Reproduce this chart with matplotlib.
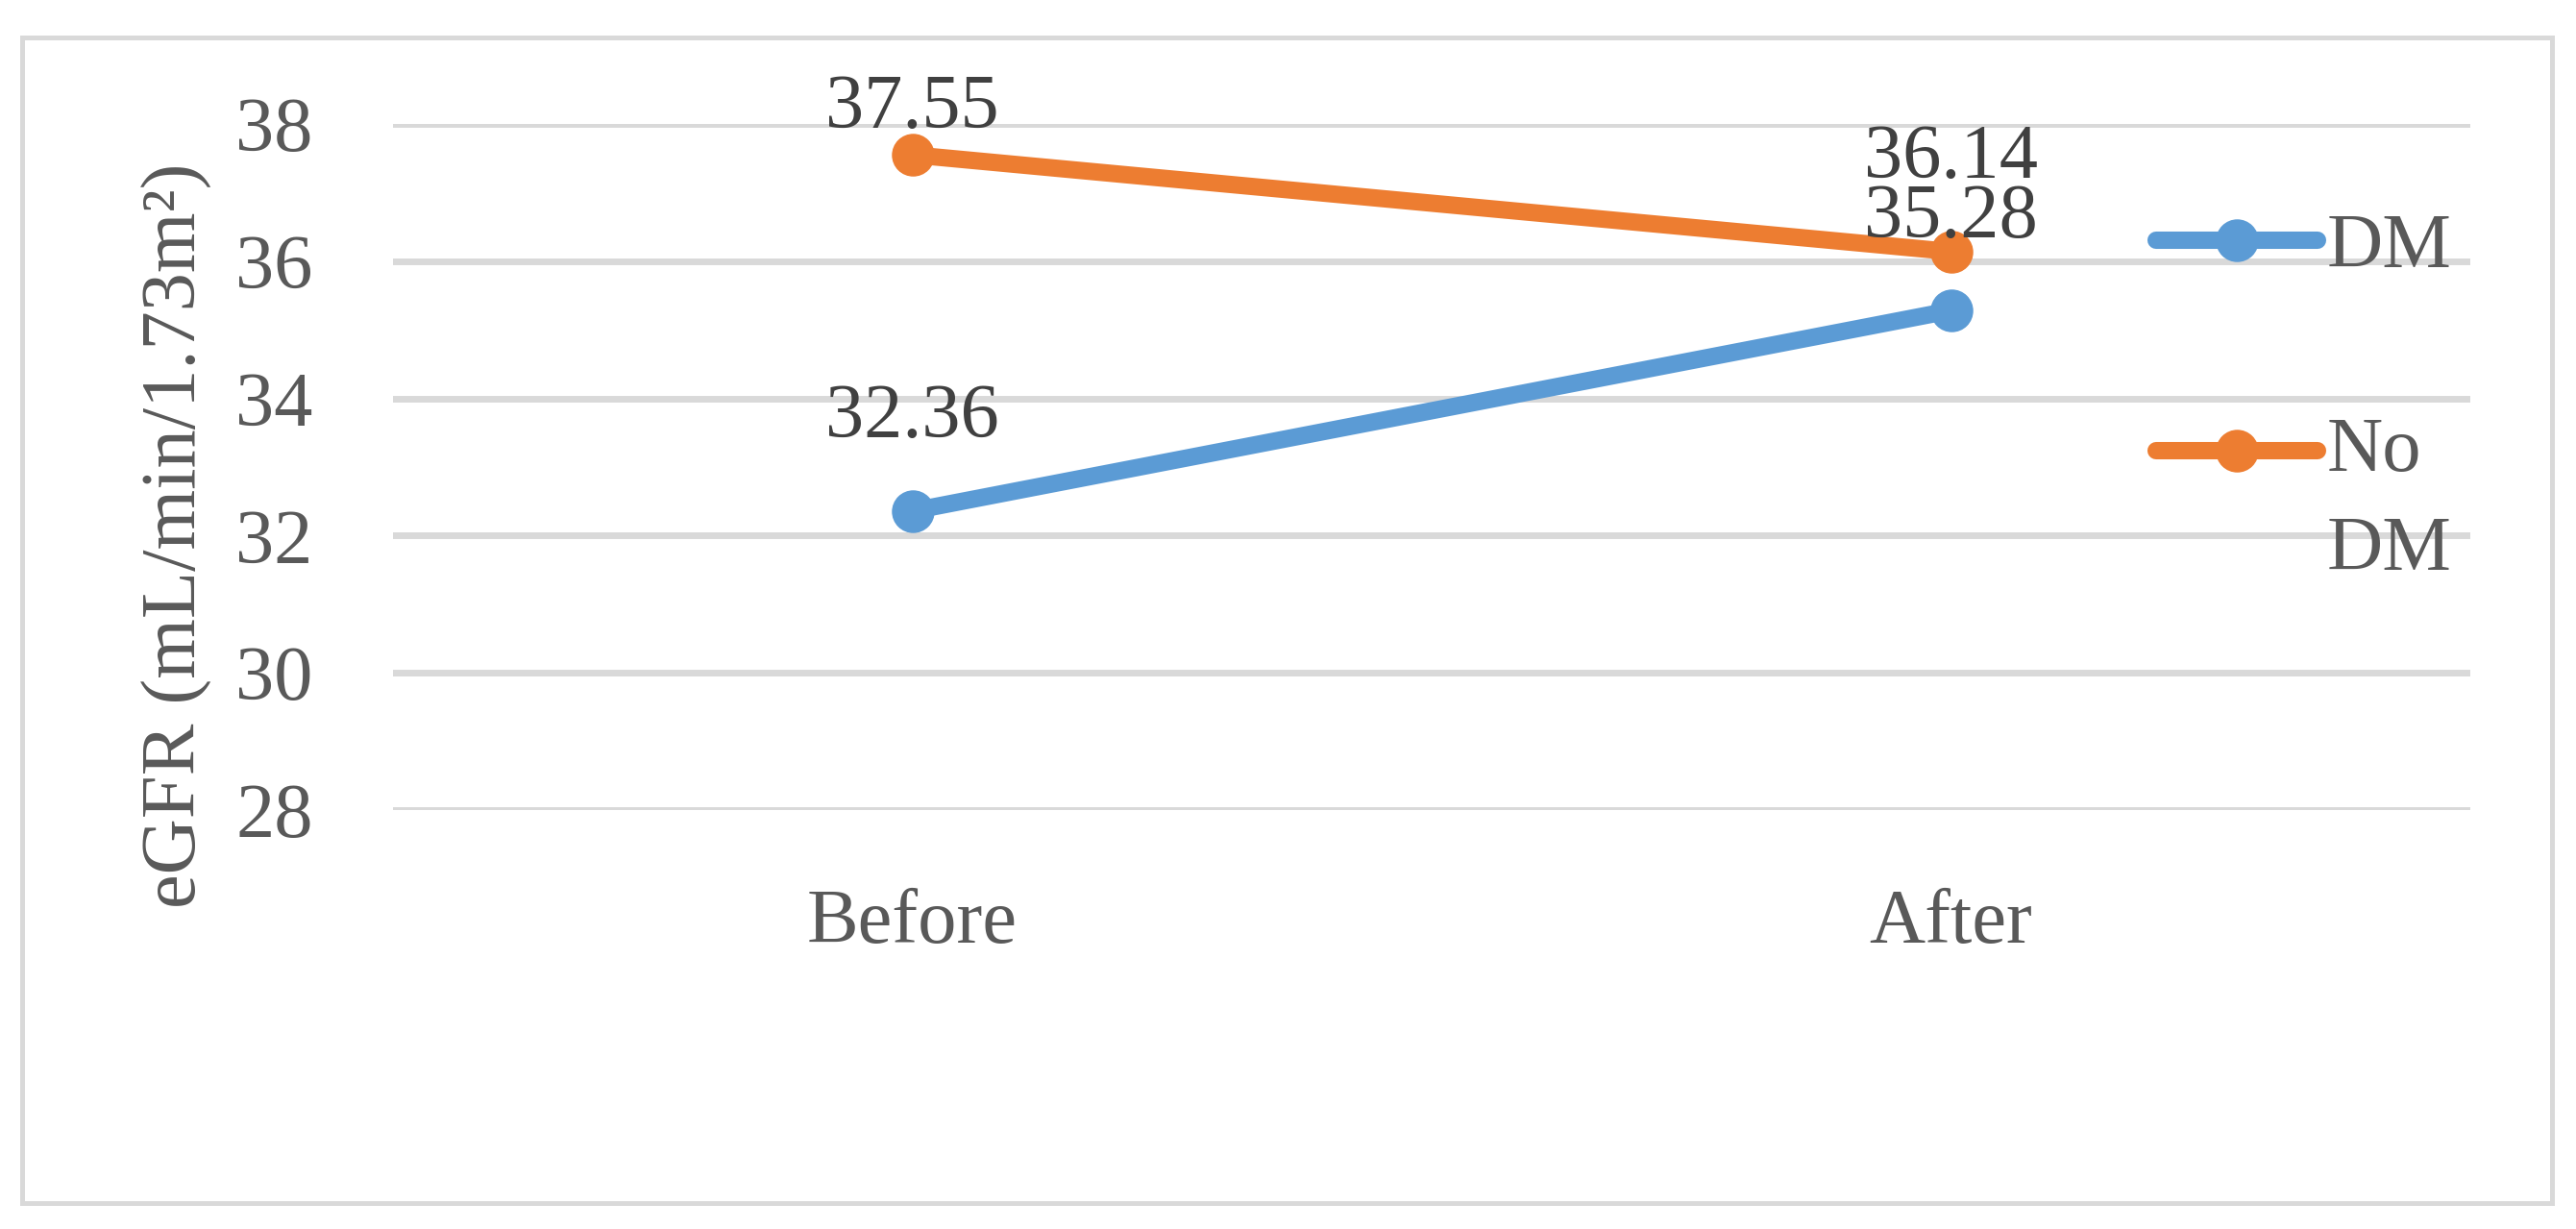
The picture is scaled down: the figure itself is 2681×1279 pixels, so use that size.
import numpy as np
import matplotlib
matplotlib.use("Agg")
import matplotlib.pyplot as plt
from matplotlib.legend_handler import HandlerLine2D
from matplotlib.patches import Rectangle

categories = ["Before", "After"]
series_names = ["DM", "No\nDM"]
dm_values = [32.36, 35.28]
nodm_values = [37.55, 36.14]
y_ticks = [28, 30, 32, 34, 36, 38]
y_label = "eGFR (mL/min/1.73m²)"

BLUE = "#5B9BD5"
ORANGE = "#ED7D31"
GRID = "#D9D9D9"
TICK_C = "#595959"
LABEL_C = "#404040"
FS = 58

plt.rcParams['font.family'] = ['Liberation Serif', 'DejaVu Serif']

fig = plt.figure(figsize=(26.81, 12.79), dpi=100)
ax = fig.add_axes([409/2681, 1 - 843/1279, (2571-409)/2681, (843-129)/1279])

x = np.arange(len(categories))
series = [(dm_values, BLUE, series_names[0]), (nodm_values, ORANGE, series_names[1])]
lines = []
for vals, col, name in series:
    ln, = ax.plot(x, vals, color=col, lw=13, marker='o', ms=31, mec=col, mfc=col,
                  solid_capstyle='round', label=name, zorder=3, clip_on=False)
    lines.append(ln)

# data labels (offsets in points above marker)
label_offsets = {(1, 0): 20}
for si, (vals, col, name) in enumerate(series):
    for xi, v in zip(x, vals):
        off = label_offsets.get((si, xi), 55)
        ax.annotate(f"{v:.2f}", (xi, v), xytext=(0, off), textcoords='offset points',
                    ha='center', va='baseline', fontsize=FS, color=LABEL_C, zorder=4)

ax.set_xlim(-0.5, 1.5)
ax.set_ylim(y_ticks[0], y_ticks[-1])
ax.set_yticks(y_ticks)
ax.set_xticks(x)
ax.set_xticklabels(categories)
ax.tick_params(axis='both', length=0, labelsize=FS, colors=TICK_C)
ax.tick_params(axis='y', pad=60)
ax.tick_params(axis='x', pad=59)
for s in ax.spines.values():
    s.set_visible(False)
ax.grid(axis='y', color=GRID, lw=5, zorder=0)
ax.set_axisbelow(True)

fig.text(184/2681, 1 - 557/1279, y_label, rotation=90, ha='center', va='center',
         fontsize=FS, color=TICK_C)


class ShiftedHandler(HandlerLine2D):
    def __init__(self, dy=0, **kw):
        super().__init__(**kw)
        self.dy = dy

    def create_artists(self, legend, orig_handle, xdescent, ydescent, width, height,
                       fontsize, trans):
        arts = super().create_artists(legend, orig_handle, xdescent, ydescent, width,
                                      height, fontsize, trans)
        for a in arts:
            a.set_ydata(np.asarray(a.get_ydata(), dtype=float) + self.dy)
        return arts


leg = fig.legend(handles=lines, labels=series_names, loc='upper left',
                 bbox_to_anchor=(2244/2681, 1 - 222/1279), frameon=False,
                 fontsize=FS, handlelength=2.08, handletextpad=0.12,
                 labelspacing=1.72, borderpad=0, borderaxespad=0,
                 handler_map={lines[0]: ShiftedHandler(dy=0),
                              lines[1]: ShiftedHandler(dy=38)})
for t in leg.get_texts():
    t.set_color(TICK_C)
    t.set_linespacing(1.53)

fig.add_artist(Rectangle((23/2681, 1 - 1252/1279), (2656-23)/2681, (1252-39)/1279,
                         transform=fig.transFigure, fill=False, edgecolor=GRID, lw=3.6))

fig.savefig("out.png", dpi=100, facecolor='white')
